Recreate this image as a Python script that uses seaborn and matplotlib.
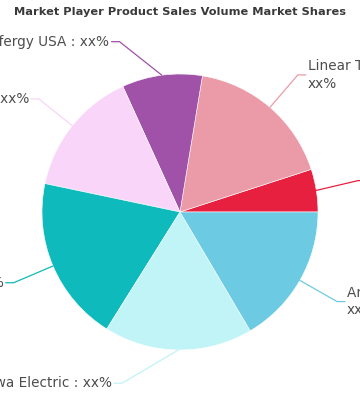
import numpy as np
import seaborn as sns
import matplotlib.pyplot as plt

# slice data, counterclockwise from 3 o'clock
players = ['Schneider Electric', 'Linear Technology', 'Efergy USA', 'Aeon Labs',
           'Onset Computer', 'Yokogawa Electric', 'Arkados Group']
shares = [5.0, 17.4, 9.4, 14.9, 19.4, 17.4, 16.5]
labels = ['Schneider Electric : xx%', 'Linear Technology :\nxx%', 'Efergy USA : xx%',
          'Aeon Labs : xx%', 'Onset : xx%', 'Yokogawa Electric : xx%', 'Arkados Group :\nxx%']
colors = ['#e8203f', '#eb9ba7', '#a052a8', '#f9d5f9', '#0fbabc', '#c1f4f6', '#6ccae3']

sns.set_theme(style='white')
plt.rcParams['font.family'] = ['DejaVu Sans']

fig = plt.figure(figsize=(3.6, 4.0), dpi=100)
ax = fig.add_axes([0, 0, 1, 1])
R = 138.0

wedges, _ = ax.pie(shares, colors=sns.color_palette(colors), startangle=0,
                   counterclock=True, radius=1,
                   wedgeprops=dict(edgecolor='white', linewidth=0.4))
ax.set_aspect('auto')
ax.set_xlim(-180 / R, 180 / R)
ax.set_ylim(-188 / R, 212 / R)
ax.axis('off')

# label nudges (degrees), like the original's overlap avoidance
nudge = [1, 0, 12, 0, 0, -18, 0]
seg = 8 / R
gap = 2 / R
for w, lab, col, dn in zip(wedges, labels, colors, nudge):
    mid = np.deg2rad((w.theta1 + w.theta2) / 2)
    ang = mid + np.deg2rad(dn)
    x0, y0 = np.cos(mid), np.sin(mid)
    x1, y1 = 1.31 * np.cos(ang), 1.31 * np.sin(ang)
    side = 1 if x1 >= 0 else -1
    x2 = x1 + side * seg
    ax.plot([x0, x1, x2], [y0, y1, y1], color=col, lw=0.9, clip_on=False)
    ax.text(x2 + side * gap, y1, lab, ha='left' if side > 0 else 'right',
            va='center', fontsize=9.8, color='#4d4d4d', linespacing=1.35,
            clip_on=False)

fig.text(0.5, 1 - 12 / 400, 'Market Player Product Sales Volume Market Shares',
         ha='center', va='center', fontsize=8.2, fontweight='heavy',
         color='#3a3a3a', family=['DejaVu Sans'])

fig.savefig('out.png', dpi=100)
